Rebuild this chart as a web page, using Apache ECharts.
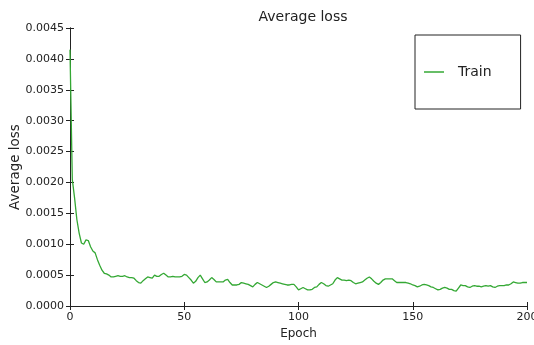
<!DOCTYPE html>
<html>
<head>
<meta charset="utf-8">
<script src="https://cdn.jsdelivr.net/npm/echarts@6/dist/echarts.min.js"></script>
<style>
html,body{margin:0;padding:0;background:#fff;}
#chart{width:534px;height:345px;}
</style>
</head>
<body>
<div id="chart"></div>
<script>
var seriesName = 'Train';
var epochs = [];
for (var i = 0; i <= 200; i++) epochs.push(i);
var trainLoss = [
0.00415,0.00205,0.00175,0.00140,0.00118,0.00102,0.00100,0.00107,0.00106,0.00096,
0.00089,0.00086,0.00075,0.00066,0.00058,0.00053,0.00052,0.00050,0.00047,0.00047,
0.00048,0.00049,0.00048,0.00048,0.00049,0.00047,0.00046,0.00046,0.00045,0.00041,
0.00038,0.00037,0.00041,0.00044,0.00047,0.00046,0.00045,0.00050,0.00048,0.00048,
0.00051,0.00053,0.00050,0.00047,0.00047,0.00048,0.00047,0.00047,0.00047,0.00048,
0.00051,0.00050,0.00046,0.00042,0.00037,0.00040,0.00046,0.00050,0.00044,0.00038,
0.00039,0.00042,0.00046,0.00043,0.00039,0.00039,0.00039,0.00039,0.00042,0.00043,
0.00038,0.00034,0.00034,0.00034,0.00035,0.00038,0.00037,0.00036,0.00035,0.00033,
0.00031,0.00035,0.00038,0.00036,0.00034,0.00032,0.00030,0.00032,0.00035,0.00038,
0.00039,0.00038,0.00037,0.00036,0.00035,0.00034,0.00034,0.00035,0.00035,0.00031,
0.00026,0.00028,0.00030,0.00028,0.00026,0.00026,0.00027,0.00030,0.00031,0.00035,
0.00038,0.00036,0.00033,0.00032,0.00034,0.00036,0.00042,0.00046,0.00044,0.00042,
0.00042,0.00041,0.00042,0.00041,0.00038,0.00036,0.00037,0.00038,0.00039,0.00042,
0.00045,0.00047,0.00044,0.00040,0.00037,0.00035,0.00038,0.00042,0.00044,0.00044,
0.00044,0.00044,0.00041,0.00038,0.00038,0.00038,0.00038,0.00038,0.00037,0.00036,
0.00034,0.00033,0.00031,0.00032,0.00034,0.00035,0.00034,0.00033,0.00031,0.00030,
0.00028,0.00026,0.00027,0.00029,0.00030,0.00029,0.00027,0.00027,0.00025,0.00024,
0.00029,0.00034,0.00033,0.00033,0.00031,0.00030,0.00032,0.00033,0.00032,0.00032,
0.00031,0.00032,0.00033,0.00032,0.00033,0.00031,0.00030,0.00032,0.00033,0.00033,
0.00033,0.00034,0.00034,0.00036,0.00039,0.00038,0.00037,0.00037,0.00038,0.00038,
0.00038
];
var titleText = 'Average loss';
var xName = 'Epoch';
var yName = 'Average loss';

var data = epochs.map(function (e, i) { return [e, trainLoss[i]]; });
var font = 'DejaVu Sans';
var axisLine = {show: true, lineStyle: {color: '#222', width: 1}};
var tick = {show: true, inside: true, length: 4, lineStyle: {color: '#222'}};

var chart = echarts.init(document.getElementById('chart'), null, {renderer: 'canvas'});
chart.setOption({
  animation: false,
  backgroundColor: '#fff',
  title: {
    text: titleText, left: 298, top: 5, textAlign: 'center',
    textStyle: {fontFamily: font, fontSize: 14, fontWeight: 'normal', color: '#222'}
  },
  legend: {
    left: 415, top: 35,
    padding: [30, 29, 30, 9],
    borderColor: '#222', borderWidth: 1,
    icon: 'rect',
    itemWidth: 20, itemHeight: 1.5, itemGap: 0,
    itemStyle: {color: '#34a834'},
    textStyle: {fontFamily: font, fontSize: 14, color: '#222', padding: [0, 0, 0, 9]},
    data: [seriesName]
  },
  grid: {left: 70, right: 7, top: 28, bottom: 39, containLabel: false, outerBoundsMode: 'none'},
  xAxis: [{
    type: 'value', min: 0, max: 200, interval: 50, position: 'bottom',
    name: xName, nameLocation: 'middle', nameGap: 22,
    nameTextStyle: {fontFamily: font, fontSize: 12, color: '#222'},
    axisLine: axisLine, axisTick: tick, splitLine: {show: false},
    axisLabel: {fontFamily: font, fontSize: 11, color: '#222', margin: 6}
  }, {
    type: 'value', min: 0, max: 200, interval: 50, position: 'top',
    axisLine: axisLine, axisTick: tick, splitLine: {show: false},
    axisLabel: {show: false}
  }],
  yAxis: [{
    type: 'value', min: 0, max: 0.0045, interval: 0.0005, position: 'left',
    name: yName, nameLocation: 'middle', nameGap: 48, nameRotate: 90, nameMoveOverlap: false,
    nameTextStyle: {fontFamily: font, fontSize: 13.5, color: '#222'},
    axisLine: axisLine, axisTick: tick, splitLine: {show: false},
    axisLabel: {fontFamily: font, fontSize: 11, color: '#222', margin: 6,
      formatter: function (v) { return v.toFixed(4); }}
  }, {
    type: 'value', min: 0, max: 0.0045, interval: 0.0005, position: 'right',
    axisLine: axisLine, axisTick: tick, splitLine: {show: false},
    axisLabel: {show: false}
  }],
  series: [{
    name: seriesName, type: 'line', data: data,
    xAxisIndex: 0, yAxisIndex: 0,
    symbol: 'none', showSymbol: false,
    lineStyle: {color: '#34a834', width: 1.3},
    itemStyle: {color: '#34a834'}
  }]
});
</script>
</body>
</html>
